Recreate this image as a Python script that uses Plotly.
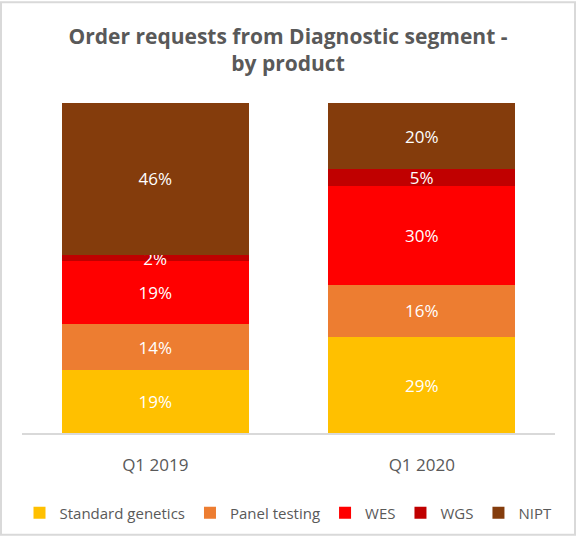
import plotly.graph_objects as go

quarters = ["Q1 2019", "Q1 2020"]
products = ["Standard genetics", "Panel testing", "WES", "WGS", "NIPT"]
colors = ["#FFC000", "#ED7D31", "#FF0000", "#C00000", "#843C0C"]

standard_genetics = [19, 29]
panel_testing = [14, 16]
wes = [19, 30]
wgs = [2, 5]
nipt = [46, 20]

series = [standard_genetics, panel_testing, wes, wgs, nipt]

fig = go.Figure()
for name, vals, col in zip(products, series, colors):
    fig.add_trace(go.Bar(
        x=quarters, y=vals, name=name,
        marker=dict(color=col, line=dict(width=0)),
        texttemplate="%{y}%", textposition="inside",
        insidetextanchor="middle", textangle=0,
        textfont=dict(color="white", size=17, family="Open Sans"),
    ))

# plot area in px
L, R, T, B = 22, 21, 103, 104
PW, PH = 576 - L - R, 541 - T - B

fig.update_layout(
    barmode="stack",
    bargap=0.3,
    width=576, height=541,
    margin=dict(l=L, r=R, t=T, b=B),
    paper_bgcolor="white", plot_bgcolor="white",
    font=dict(family="Open Sans", color="#595959"),
    title=dict(
        text="<b>Order requests from Diagnostic segment -<br>by product</b>",
        x=0.5, xanchor="center", y=1 - 44 / 541, yanchor="middle",
        font=dict(size=21, color="#595959", family="Open Sans"),
    ),
    uniformtext=dict(minsize=17, mode="show"),
    legend=dict(
        orientation="h", x=0.5, xanchor="center",
        y=-(518 - (541 - B)) / PH, yanchor="middle",
        font=dict(size=15, color="#595959"), traceorder="normal",
        itemwidth=30,
    ),
    showlegend=True,
)
fig.update_xaxes(
    showline=True, linecolor="#D9D9D9", linewidth=2,
    ticks="outside", ticklen=16, tickcolor="rgba(0,0,0,0)",
    tickfont=dict(size=17, color="#595959"),
)
fig.update_yaxes(range=[0, 100], visible=False)

fig.add_shape(type="rect", xref="paper", yref="paper",
              x0=-(L - 1) / PW, x1=1 + (R - 1) / PW,
              y0=-(B - 1) / PH, y1=1 + (T - 1) / PH,
              line=dict(color="#D9D9D9", width=2))

# drop the default page margin so the figure sits at the window's corner
fig.write_html("out.html", config={"displayModeBar": False},
               post_script="document.body.style.margin='0';")
